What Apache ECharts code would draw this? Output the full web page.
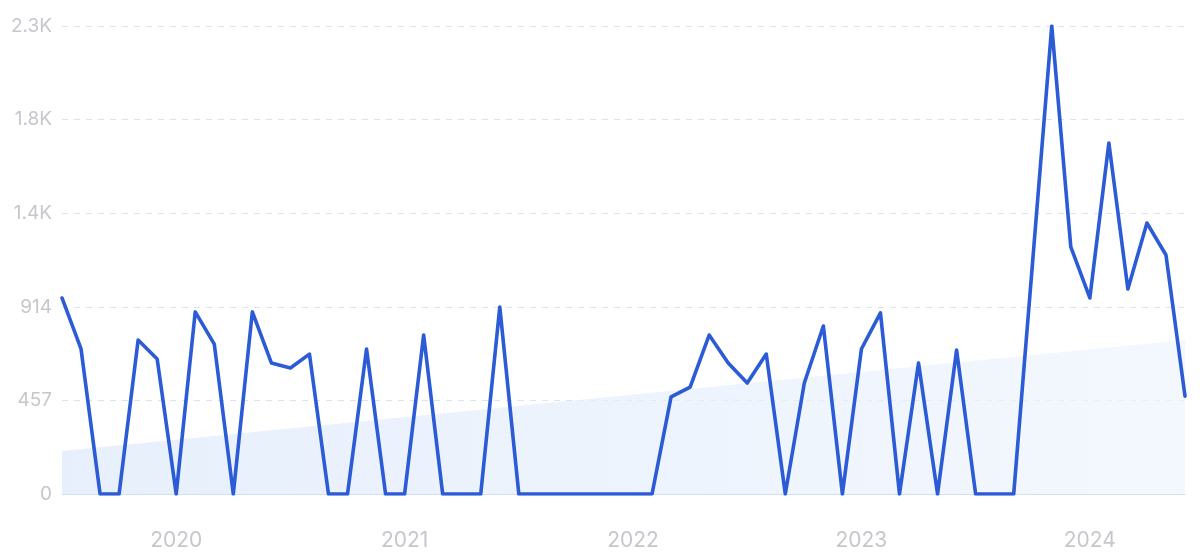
<!DOCTYPE html>
<html>
<head>
<meta charset="utf-8">
<script src="https://cdn.jsdelivr.net/npm/echarts@6/dist/echarts.min.js"></script>
<style>
html,body{margin:0;padding:0;background:#fff;}
#c{width:1200px;height:556px;}
</style>
</head>
<body>
<div id="c"></div>
<script>
// Months Jul 2019 .. Jun 2024
const months = [];
(function(){
  let y = 2019, m = 7;
  for (let i = 0; i < 60; i++) {
    months.push(y + '-' + String(m).padStart(2, '0'));
    m++; if (m > 12) { m = 1; y++; }
  }
})();

const values = [
  957, 708, 0, 0, 752, 659, 0, 889, 732, 0,
  889, 640, 615, 683, 0, 0, 708, 0, 0, 776,
  0, 0, 0, 913, 0, 0, 0, 0, 0, 0,
  0, 0, 474, 522, 776, 640, 542, 683, 0, 542,
  820, 0, 708, 884, 0, 640, 0, 703, 0, 0,
  0, 1140, 2285, 1206, 957, 1714, 1001, 1323, 1167, 478
];

// trend line end points [category index, value]
const trendPoints = [[0, 210], [59, 752]];

const yTickLabels = ['0', '457', '914', '1.4K', '1.8K', '2.3K'];
const yMax = 2285;
const yInterval = 457;

const chart = echarts.init(document.getElementById('c'));
chart.setOption({
  animation: false,
  grid: { left: 62, right: 15, top: 26, bottom: 62, containLabel: false },
  xAxis: {
    type: 'category',
    data: months,
    boundaryGap: false,
    axisLine: { show: true, lineStyle: { color: '#d3dff4', width: 1 } },
    axisTick: { show: false },
    splitLine: { show: false },
    axisLabel: {
      interval: function (idx, v) { return v.slice(5) === '01'; },
      formatter: function (v) { return v.slice(0, 4); },
      color: '#c5c7cc',
      fontFamily: 'Inter',
      fontSize: 21,
      margin: 36
    }
  },
  yAxis: {
    type: 'value',
    min: 0,
    max: yMax,
    interval: yInterval,
    axisLine: { show: false },
    axisTick: { show: false },
    splitLine: { show: true, lineStyle: { color: '#dce3f0', type: [6, 6], width: 1 } },
    axisLabel: {
      formatter: function (v, i) { return yTickLabels[i]; },
      color: '#c5c7cc',
      fontFamily: 'Inter',
      fontSize: 19,
      margin: 10
    }
  },
  series: [
    {
      type: 'line',
      data: trendPoints,
      symbol: 'none',
      lineStyle: { width: 0, opacity: 0 },
      areaStyle: {
        color: new echarts.graphic.LinearGradient(0, 0, 1, 0, [
          { offset: 0, color: '#dce8fa' },
          { offset: 1, color: '#eef4fd' }
        ])
      },
      silent: true,
      z: 1
    },
    {
      type: 'line',
      data: values,
      symbol: 'none',
      lineStyle: { color: '#2c5bd6', width: 3.6, join: 'round', cap: 'round' },
      z: 3
    }
  ]
});
</script>
</body>
</html>
